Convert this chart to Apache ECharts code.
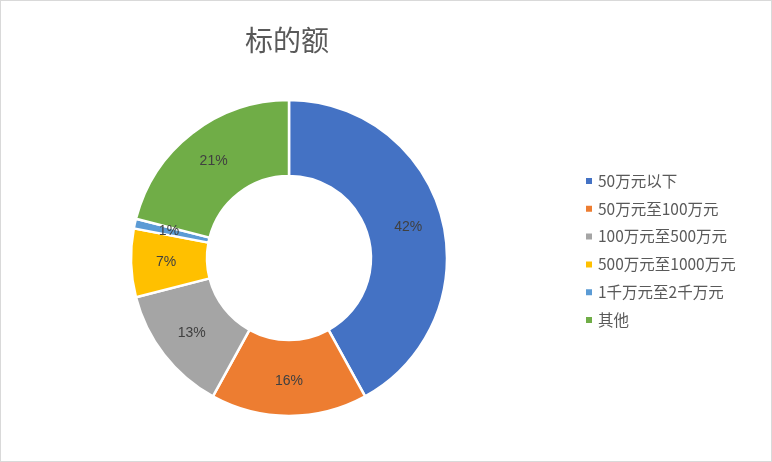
<!DOCTYPE html>
<html><head><meta charset="utf-8">
<script src="https://cdn.jsdelivr.net/npm/echarts@6/dist/echarts.min.js"></script>
<style>html,body{margin:0;padding:0;background:#fff}#c{width:770px;height:460px;border:1px solid #d9d9d9}</style>
</head><body><div id="c"></div>
<script>
const categories = ['50万元以下','50万元至100万元','100万元至500万元','500万元至1000万元','1千万元至2千万元','其他'];
const values = [42, 16, 13, 7, 1, 21];
const colors = ['#4472C4','#ED7D31','#A5A5A5','#FFC000','#5B9BD5','#70AD47'];
const chart = echarts.init(document.getElementById('c'));
chart.setOption({
  animation: false,
  color: colors,
  title: {text: '标的额', left: 281, top: 20, textAlign: 'center',
    textStyle: {fontSize: 28, fontWeight: 'normal', color: '#595959', fontFamily: 'Noto Sans CJK SC'}},
  legend: {orient: 'vertical', left: 578, top: 167, itemWidth: 8, itemHeight: 8, itemGap: 11.8, icon: 'rect',
    textStyle: {fontSize: 15.5, lineHeight: 16, color: '#595959', fontFamily: 'Noto Sans CJK SC', padding: [0,0,0,0]},
    data: categories},
  series: [{
    type: 'pie', center: [288, 257], radius: [82, 158], startAngle: 90, clockwise: true,
    itemStyle: {borderColor: '#fff', borderWidth: 2.5},
    label: {position: 'inside', formatter: '{c}%', fontSize: 14, color: '#404040', fontFamily: 'Liberation Sans'},
    labelLine: {show: false},
    emphasis: {disabled: true},
    data: categories.map((n, i) => ({name: n, value: values[i]}))
  }]
});
</script></body></html>
